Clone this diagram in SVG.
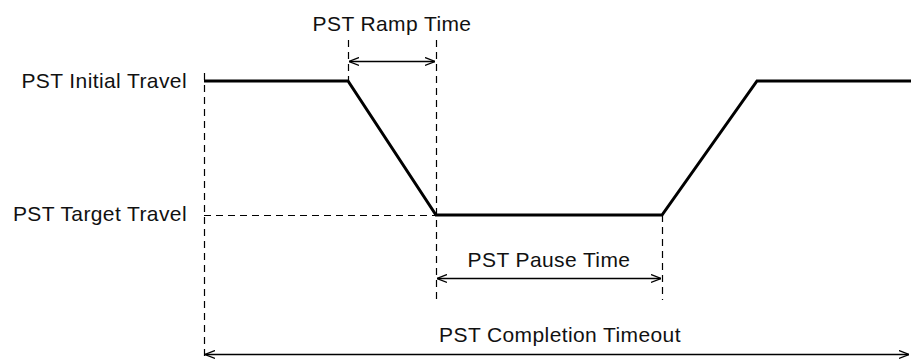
<svg xmlns="http://www.w3.org/2000/svg" width="911" height="360" viewBox="0 0 911 360">
<defs>
<marker id="ah" viewBox="0 0 10 10" refX="10" refY="5" markerWidth="10" markerHeight="10" markerUnits="userSpaceOnUse" orient="auto-start-reverse">
<path d="M0,1 L10,5 L0,9" fill="none" stroke="#000" stroke-width="1.3"/>
</marker>
<style>
.t{font-family:"Liberation Sans",Arial,sans-serif;font-size:21px;letter-spacing:0.4px;fill:#111}
.d{stroke:#000;stroke-width:1.2;stroke-dasharray:7,5;fill:none}
.a{stroke:#000;stroke-width:1.3;fill:none;marker-start:url(#ah);marker-end:url(#ah)}
.w{stroke:#000;stroke-width:3;fill:none;stroke-linejoin:miter}
</style>
</defs>
<g id="guides">
<line class="d" x1="204.5" y1="73" x2="204.5" y2="356"/>
<line class="d" x1="348.5" y1="40" x2="348.5" y2="81"/>
<line class="d" x1="436.5" y1="40" x2="436.5" y2="300"/>
<line class="d" x1="662.5" y1="215" x2="662.5" y2="300"/>
<line class="d" x1="204" y1="215.5" x2="436" y2="215.5"/>
</g>
<g id="waveform">
<polyline class="w" points="204,81 348,81 436,215 662,215 757,81 911,81"/>
</g>
<g id="connectors">
<line class="a" x1="349" y1="61.5" x2="435" y2="61.5"/>
<line class="a" x1="437" y1="278.5" x2="661" y2="278.5"/>
<line class="a" x1="205" y1="354.5" x2="909" y2="354.5"/>
</g>
<g id="labels">
<text class="t" x="392" y="31" text-anchor="middle">PST Ramp Time</text>
<text class="t" x="187" y="88" text-anchor="end">PST Initial Travel</text>
<text class="t" x="187" y="221" text-anchor="end">PST Target Travel</text>
<text class="t" x="549" y="267" text-anchor="middle">PST Pause Time</text>
<text class="t" x="560" y="342" text-anchor="middle">PST Completion Timeout</text>
</g>
</svg>
